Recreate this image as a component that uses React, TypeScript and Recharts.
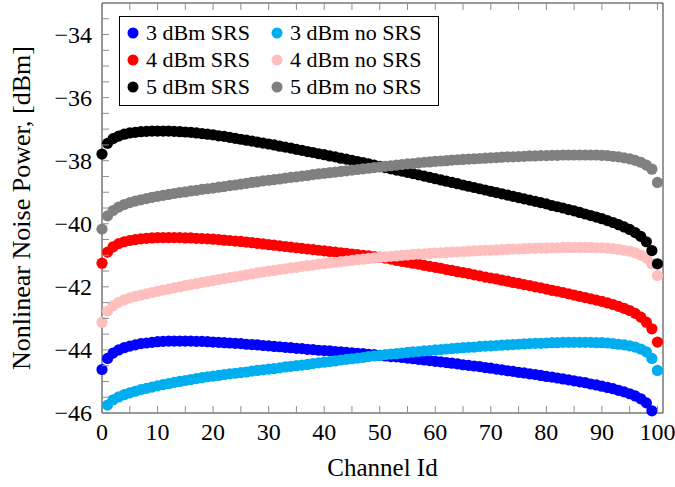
import { LineChart, Line, XAxis, YAxis, Legend } from 'recharts';

// channel ids 0..100
const channels = Array.from({ length: 101 }, (_, i) => i);

const srs3 = [
  -44.62, -44.27, -44.1, -44.0, -43.93, -43.88, -43.84, -43.8, -43.78, -43.76,
  -43.74, -43.73, -43.72, -43.72, -43.72, -43.72, -43.72, -43.73, -43.73, -43.74,
  -43.75, -43.76, -43.77, -43.78, -43.79, -43.8, -43.82, -43.83, -43.84, -43.86,
  -43.87, -43.89, -43.9, -43.92, -43.93, -43.95, -43.96, -43.98, -43.99, -44.01,
  -44.02, -44.03, -44.05, -44.06, -44.08, -44.09, -44.11, -44.12, -44.14, -44.15,
  -44.17, -44.19, -44.21, -44.22, -44.24, -44.26, -44.28, -44.3, -44.32, -44.34,
  -44.36, -44.38, -44.4, -44.42, -44.44, -44.47, -44.49, -44.51, -44.53, -44.56,
  -44.58, -44.61, -44.63, -44.66, -44.68, -44.71, -44.73, -44.76, -44.78, -44.81,
  -44.84, -44.86, -44.89, -44.92, -44.95, -44.98, -45.01, -45.04, -45.08, -45.11,
  -45.15, -45.19, -45.23, -45.28, -45.33, -45.39, -45.46, -45.55, -45.68, -45.93,
  null,
];

const noSrs3 = [
  null, -45.75, -45.58, -45.49, -45.42, -45.36, -45.31, -45.26, -45.22, -45.18,
  -45.14, -45.1, -45.07, -45.03, -45.0, -44.97, -44.94, -44.91, -44.88, -44.85,
  -44.83, -44.81, -44.78, -44.76, -44.74, -44.72, -44.7, -44.67, -44.65, -44.63,
  -44.61, -44.59, -44.57, -44.54, -44.52, -44.5, -44.48, -44.46, -44.43, -44.41,
  -44.39, -44.37, -44.35, -44.32, -44.3, -44.28, -44.26, -44.24, -44.21, -44.19,
  -44.17, -44.15, -44.13, -44.12, -44.1, -44.08, -44.06, -44.05, -44.03, -44.02,
  -44.0, -43.99, -43.97, -43.96, -43.94, -43.93, -43.92, -43.91, -43.89, -43.88,
  -43.87, -43.86, -43.85, -43.84, -43.83, -43.82, -43.81, -43.8, -43.79, -43.79,
  -43.78, -43.77, -43.77, -43.76, -43.76, -43.76, -43.76, -43.76, -43.76, -43.77,
  -43.77, -43.78, -43.8, -43.82, -43.84, -43.87, -43.91, -43.97, -44.06, -44.27,
  -44.65,
];

const srs4 = [
  -41.25, -40.9, -40.73, -40.63, -40.57, -40.53, -40.5, -40.48, -40.46, -40.45,
  -40.44, -40.44, -40.44, -40.44, -40.44, -40.45, -40.45, -40.46, -40.47, -40.48,
  -40.49, -40.5, -40.52, -40.53, -40.55, -40.56, -40.58, -40.6, -40.62, -40.64,
  -40.66, -40.68, -40.7, -40.72, -40.74, -40.76, -40.78, -40.8, -40.82, -40.84,
  -40.86, -40.88, -40.9, -40.92, -40.94, -40.96, -40.98, -41.0, -41.02, -41.04,
  -41.06, -41.09, -41.12, -41.16, -41.19, -41.22, -41.25, -41.28, -41.32, -41.35,
  -41.38, -41.41, -41.45, -41.48, -41.52, -41.55, -41.58, -41.62, -41.65, -41.69,
  -41.72, -41.75, -41.79, -41.82, -41.86, -41.89, -41.93, -41.96, -42.0, -42.03,
  -42.07, -42.11, -42.14, -42.18, -42.22, -42.26, -42.3, -42.34, -42.38, -42.42,
  -42.46, -42.51, -42.56, -42.62, -42.68, -42.75, -42.84, -42.96, -43.12, -43.33,
  -43.75,
];

const noSrs4 = [
  -43.12, -42.77, -42.6, -42.49, -42.41, -42.35, -42.3, -42.26, -42.22, -42.18,
  -42.14, -42.1, -42.07, -42.03, -42.0, -41.96, -41.93, -41.9, -41.86, -41.83,
  -41.8, -41.77, -41.74, -41.71, -41.68, -41.65, -41.62, -41.59, -41.56, -41.53,
  -41.5, -41.48, -41.45, -41.43, -41.4, -41.38, -41.35, -41.33, -41.31, -41.28,
  -41.26, -41.24, -41.22, -41.2, -41.18, -41.16, -41.14, -41.12, -41.1, -41.08,
  -41.06, -41.05, -41.03, -41.02, -41.0, -40.99, -40.97, -40.96, -40.95, -40.94,
  -40.93, -40.92, -40.91, -40.9, -40.89, -40.88, -40.87, -40.86, -40.85, -40.84,
  -40.84, -40.83, -40.82, -40.81, -40.8, -40.8, -40.79, -40.78, -40.78, -40.77,
  -40.77, -40.76, -40.76, -40.75, -40.75, -40.75, -40.75, -40.75, -40.75, -40.76,
  -40.76, -40.77, -40.79, -40.81, -40.84, -40.87, -40.92, -40.99, -41.09, -41.27,
  -41.64,
];

const srs5 = [
  -37.79, -37.45, -37.3, -37.22, -37.16, -37.12, -37.1, -37.08, -37.07, -37.06,
  -37.06, -37.06, -37.06, -37.07, -37.08, -37.09, -37.1, -37.12, -37.14, -37.16,
  -37.18, -37.21, -37.23, -37.26, -37.29, -37.32, -37.35, -37.38, -37.41, -37.44,
  -37.47, -37.5, -37.54, -37.57, -37.6, -37.64, -37.67, -37.71, -37.74, -37.78,
  -37.81, -37.85, -37.88, -37.92, -37.95, -37.99, -38.03, -38.06, -38.1, -38.14,
  -38.18, -38.22, -38.26, -38.3, -38.33, -38.37, -38.41, -38.45, -38.49, -38.53,
  -38.57, -38.61, -38.65, -38.69, -38.73, -38.77, -38.81, -38.85, -38.89, -38.93,
  -38.97, -39.01, -39.05, -39.09, -39.13, -39.17, -39.21, -39.25, -39.29, -39.33,
  -39.37, -39.42, -39.46, -39.5, -39.55, -39.59, -39.64, -39.69, -39.74, -39.79,
  -39.84, -39.9, -39.96, -40.03, -40.1, -40.18, -40.28, -40.4, -40.57, -40.85,
  -41.27,
];

const noSrs5 = [
  -40.17, -39.75, -39.58, -39.47, -39.39, -39.33, -39.28, -39.24, -39.2, -39.16,
  -39.13, -39.1, -39.07, -39.04, -39.01, -38.99, -38.96, -38.94, -38.91, -38.89,
  -38.87, -38.84, -38.82, -38.79, -38.77, -38.74, -38.72, -38.69, -38.67, -38.64,
  -38.62, -38.6, -38.58, -38.55, -38.53, -38.51, -38.49, -38.47, -38.44, -38.42,
  -38.4, -38.38, -38.36, -38.34, -38.32, -38.3, -38.28, -38.26, -38.24, -38.22,
  -38.2, -38.18, -38.16, -38.14, -38.12, -38.1, -38.09, -38.07, -38.05, -38.04,
  -38.02, -38.01, -38.0, -37.98, -37.97, -37.96, -37.95, -37.94, -37.93, -37.92,
  -37.91, -37.9, -37.89, -37.88, -37.88, -37.87, -37.86, -37.85, -37.85, -37.84,
  -37.84, -37.83, -37.83, -37.82, -37.82, -37.82, -37.82, -37.82, -37.82, -37.82,
  -37.83, -37.84, -37.86, -37.88, -37.91, -37.94, -37.99, -38.05, -38.14, -38.27,
  -38.69,
];

const xTicks = [0, 5, 10, 15, 20, 25, 30, 35, 40, 45, 50, 55, 60, 65, 70, 75, 80, 85, 90, 95, 100];
const yTicks = [
  -46, -45.5, -45, -44.5, -44, -43.5, -43, -42.5, -42, -41.5, -41, -40.5, -40,
  -39.5, -39, -38.5, -38, -37.5, -37, -36.5, -36, -35.5, -35, -34.5, -34, -33.5,
];

const series = [
  { key: 'srs3', name: '3 dBm SRS', color: '#0000ff' },
  { key: 'noSrs3', name: '3 dBm no SRS', color: '#00aeef' },
  { key: 'srs4', name: '4 dBm SRS', color: '#ff0000' },
  { key: 'noSrs4', name: '4 dBm no SRS', color: '#ffbfbf' },
  { key: 'srs5', name: '5 dBm SRS', color: '#000000' },
  { key: 'noSrs5', name: '5 dBm no SRS', color: '#808080' },
];

const rows = channels.map((ch, i) => ({
  ch,
  srs3: srs3[i],
  noSrs3: noSrs3[i],
  srs4: srs4[i],
  noSrs4: noSrs4[i],
  srs5: srs5[i],
  noSrs5: noSrs5[i],
}));

const FONT = 'Liberation Serif';
const TICK = '#8c8c8c';
const FRAME = '#333';

const fmt = (v: number) => (v < 0 ? `\u2212${Math.abs(v)}` : `${v}`);

const BottomTick = (props: any) => {
  const { x, y, payload } = props;
  const v = payload.value;
  return (
    <g>
      <line x1={x} x2={x} y1={y} y2={y - 7} stroke={TICK} />
      {v % 10 === 0 && (
        <text x={x} y={y + 27} textAnchor="middle" style={{ fontFamily: FONT, fontSize: 24 }} fill="#000">
          {v}
        </text>
      )}
    </g>
  );
};

const TopTick = (props: any) => {
  const { x, y } = props;
  return <line x1={x} x2={x} y1={y} y2={y + 7} stroke={TICK} />;
};

const LeftTick = (props: any) => {
  const { x, y, payload } = props;
  const v = payload.value;
  return (
    <g>
      <line x1={x} x2={x + 7} y1={y} y2={y} stroke={TICK} />
      {v % 2 === 0 && (
        <text x={x - 10} y={y} dy="0.35em" textAnchor="end" style={{ fontFamily: FONT, fontSize: 24 }} fill="#000">
          {fmt(v)}
        </text>
      )}
    </g>
  );
};

const RightTick = (props: any) => {
  const { x, y } = props;
  return <line x1={x} x2={x - 7} y1={y} y2={y} stroke={TICK} />;
};

const XLabel = (props: any) => {
  const { x, y, width } = props.viewBox;
  return (
    <text x={x + width / 2} y={y + 63} textAnchor="middle" style={{ fontFamily: FONT, fontSize: 25 }} fill="#000">
      Channel Id
    </text>
  );
};

const YLabel = (props: any) => {
  const { x, y, height } = props.viewBox;
  const cx = x + 30;
  const cy = y + height / 2;
  return (
    <text
      x={cx}
      y={cy}
      transform={`rotate(-90, ${cx}, ${cy})`}
      textAnchor="middle"
      style={{ fontFamily: FONT, fontSize: 26 }}
      fill="#000"
    >
      Nonlinear Noise Power, [dBm]
    </text>
  );
};

const LegendBox = () => (
  <svg width={320} height={90} style={{ display: 'block' }}>
    <rect x={0.5} y={0.5} width={319} height={89} fill="#fff" stroke="#000" />
    {series.map((s, i) => {
      const col = i % 2;
      const row = Math.floor(i / 2);
      const cx = col === 0 ? 14 : 158;
      const cy = 17 + row * 27;
      return (
        <g key={s.key}>
          <circle cx={cx} cy={cy} r={5.5} fill={s.color} />
          <text x={cx + 13} y={cy + 7} style={{ fontFamily: FONT, fontSize: 22 }} fill="#000">
            {s.name}
          </text>
        </g>
      );
    })}
  </svg>
);

export default function App() {
  return (
    <div
      style={{
        position: 'absolute',
        left: 0,
        top: 0,
        width: 675,
        height: 487,
        background: '#fff',
        fontFamily: FONT,
      }}
    >
      <LineChart width={675} height={487} data={rows} margin={{ top: 0, right: 0, bottom: 0, left: 0 }}>
        <XAxis
          xAxisId="b"
          dataKey="ch"
          type="number"
          domain={[0, 101]}
          ticks={xTicks}
          interval={0}
          height={74}
          tickSize={0}
          tickMargin={0}
          tickLine={false}
          axisLine={{ stroke: FRAME }}
          tick={<BottomTick />}
          label={<XLabel />}
        />
        <XAxis
          xAxisId="t"
          orientation="top"
          dataKey="ch"
          type="number"
          domain={[0, 101]}
          ticks={xTicks}
          interval={0}
          height={3}
          tickSize={0}
          tickMargin={0}
          tickLine={false}
          axisLine={{ stroke: FRAME }}
          tick={<TopTick />}
        />
        <YAxis
          yAxisId="l"
          type="number"
          domain={[-46, -33]}
          ticks={yTicks}
          interval={0}
          width={102}
          tickSize={0}
          tickMargin={0}
          tickLine={false}
          axisLine={{ stroke: FRAME }}
          tick={<LeftTick />}
          label={<YLabel />}
        />
        <YAxis
          yAxisId="r"
          orientation="right"
          type="number"
          domain={[-46, -33]}
          ticks={yTicks}
          interval={0}
          width={12}
          tickSize={0}
          tickMargin={0}
          tickLine={false}
          axisLine={{ stroke: FRAME }}
          tick={<RightTick />}
        />
        <Legend
          layout="vertical"
          align="center"
          verticalAlign="middle"
          content={<LegendBox />}
          wrapperStyle={{ left: 119, top: 16, width: 320, height: 90 }}
        />
        {series.map((s) => (
          <Line
            key={s.key}
            xAxisId="b"
            yAxisId="l"
            dataKey={s.key}
            name={s.name}
            stroke="none"
            dot={{ r: 5.6, fill: s.color, stroke: 'none' }}
            activeDot={false}
            isAnimationActive={false}
          />
        ))}
      </LineChart>
    </div>
  );
}
